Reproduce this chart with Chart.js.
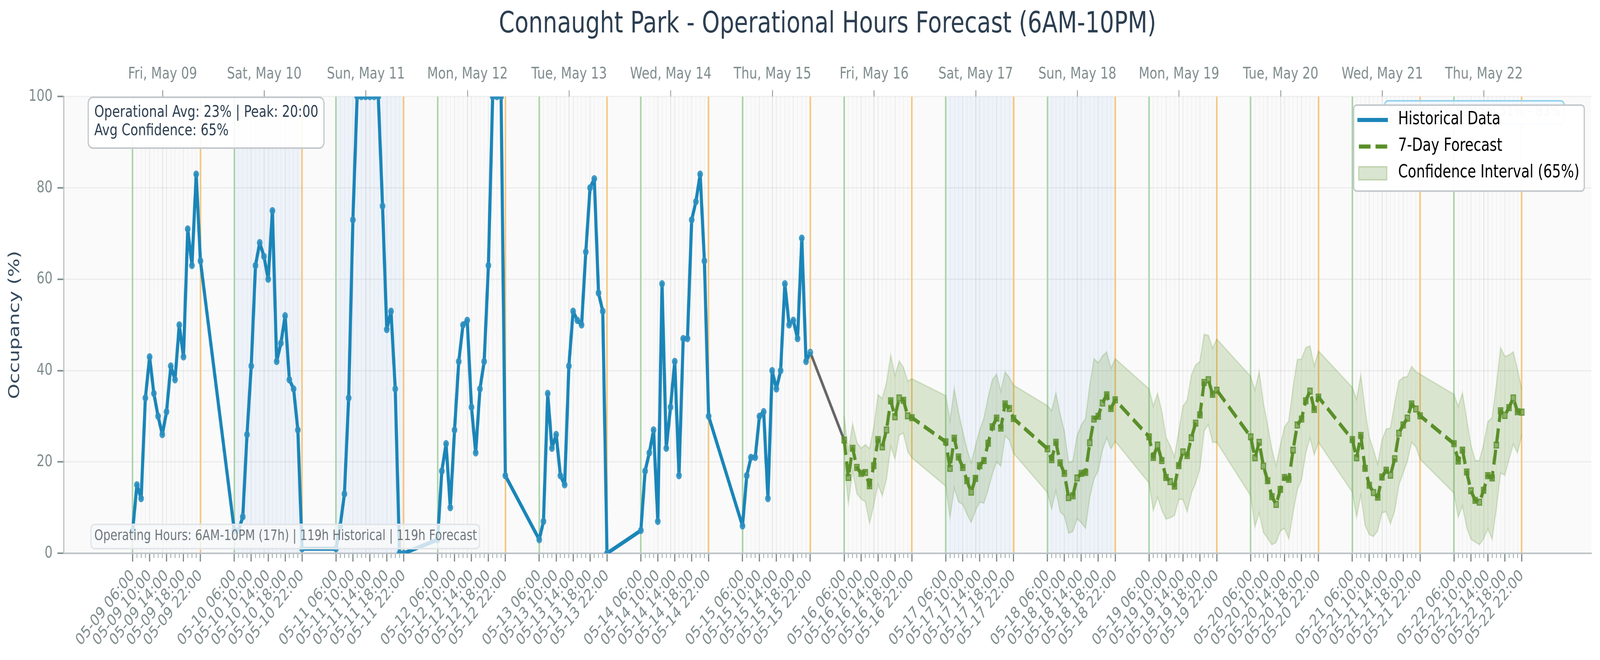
<!DOCTYPE html>
<html lang="en">
<head>
  <meta charset="UTF-8">
  <title>Connaught Park - Operational Hours Forecast</title>
  <script src="https://cdn.jsdelivr.net/npm/chart.js"></script>
  <style>
    html, body { margin: 0; padding: 0; background: #fff; overflow: hidden; }
    canvas { display: block; }
  </style>
</head>
<body>
  <!-- the browser window tops out at 4096px wide, so the 5295x1689 canvas is fitted to the window -->
  <canvas id="forecastChart" width="5295" height="1689" style="width:100vw;height:100vh"></canvas>

  <script>
    const dayKeys = ['05-09','05-10','05-11','05-12','05-13','05-14','05-15','05-16','05-17','05-18','05-19','05-20','05-21','05-22'];
    const dayNames = ['Fri, May 09','Sat, May 10','Sun, May 11','Mon, May 12','Tue, May 13','Wed, May 14','Thu, May 15','Fri, May 16','Sat, May 17','Sun, May 18','Mon, May 19','Tue, May 20','Wed, May 21','Thu, May 22'];
    const operatingHours = [6,7,8,9,10,11,12,13,14,15,16,17,18,19,20,21,22];
    const labelledHours = [6,10,14,18,22];
    const weekendDays = [1,2,8,9];

    const historical = [
      5,15,12,34,43,35,30,26,31,41,38,50,43,71,63,83,64,
      5,5,8,26,41,63,68,65,60,75,42,46,52,38,36,27,1,
      1,6,13,34,73,100,100,100,100,100,100,76,49,53,36,0,0,
      3,18,24,10,27,42,50,51,32,22,36,42,63,100,100,100,17,
      3,7,35,23,26,17,15,41,53,51,50,66,80,82,57,53,0,
      5,18,22,27,7,59,23,32,42,17,47,47,73,77,83,64,30,
      6,17,21,21,30,31,12,40,36,40,59,50,51,47,69,42,44
    ];
    const forecast = [
      24.8,16.6,23,18.8,17.5,17.7,14.8,19.2,24.9,23.3,27,33.4,29.9,34,33.5,30.1,29.7,
      24.4,18.6,25.2,21.1,18.8,15.9,13.4,16.4,19.2,20.3,24.1,27.7,29.6,27.4,32.7,31.7,29.5,
      22.9,20.5,24.3,19.8,17.5,12.2,12.6,16.5,17.5,17.7,24.2,29.4,30,32.9,34.7,31.7,33.6,
      25.5,21,23.7,20.3,16.6,15.7,14.7,19.2,22.2,21.4,25.3,28.5,30.3,37.4,38,34.8,35.7,
      25.5,20.9,24.3,19.1,15.9,12.4,10.7,14,16.6,16.2,22.6,28.1,29.4,33.4,35.5,31.5,34.2,
      24.9,20.9,25.8,18.6,14.9,13.3,12.3,16.7,18.2,17.1,20.7,26.3,28.1,29.6,32.7,31.6,30.1,
      24,20.2,22.6,17.8,13.7,11.6,11.2,13.8,17,16.5,23.7,31.2,30.2,31.9,34,31,30.9
    ];
    const upperBand = [
      30,22.4,28.3,24.3,23,23.8,22.9,27.6,34.7,33.9,37.4,43.4,38.9,42.1,40.7,37.7,38.2,
      34.5,29.1,36.1,30.9,26.7,22.8,19.8,23.5,27,29.6,34.2,38,39.2,35.5,39.7,38.5,36.8,
      32.3,31.2,35.1,30.5,26.7,19.9,20.2,25.7,28.1,29.6,36.8,42.6,41.7,43.2,44.1,40.5,42.6,
      36,32.2,35,31.1,25.4,23.5,21.1,26.7,32.2,33.5,39,41.2,42,47.9,47.7,44.9,46.9,
      38.7,35.7,39.8,32.9,28,22.8,19.1,23.7,27.7,29,36.3,42.4,42.5,45,45.4,41,44.3,
      36.3,33.7,39,31.5,25.4,22.6,19.5,24.8,27.2,27.4,32.9,37.7,38.5,38.7,40.9,39.8,39.2,
      34.8,32.1,35.1,29.4,23.7,20.3,20.3,23.9,28.8,29.7,36.8,45,43.1,43.4,44.1,40.3,35.9
    ];
    const lowerBand = [
      19.8,11,18,13.1,11.9,11.3,6.6,10.6,15.1,12.6,16.3,23.4,20.7,25.9,26.3,22.3,20.9,
      14.7,7.8,14.3,11.3,10.7,8.6,6.8,9.3,11.2,11,13.9,17.4,20,19.1,25.7,24.8,21.9,
      13.3,9.7,13.7,9.1,8.2,4.4,4.8,7.6,6.7,5.5,12.3,16.3,18.1,22.6,25.3,22.9,24.5,
      15.4,9.4,12.3,9.5,7.5,7.8,8.3,11.8,11.8,9.1,13.2,15.4,18.5,26.8,28.2,24.3,24.3,
      12.6,5.8,8.9,4.6,3.3,1.9,2.4,4.9,5.5,3.2,8.9,13.9,16.1,22,25.3,21.6,24.3,
      13.4,7.9,12.8,6.2,4.1,3.7,5,8.9,9.1,6.5,9.3,15,17.6,20.2,24.3,23.3,20.6,
      13.2,7.9,10.4,5.7,3.1,2.5,1.9,3.2,5.4,3.1,9.7,17.6,17.1,20.6,23.9,22,25.9
    ];

    const textColor = '#7f8c8d';
    const font = 'DejaVu Sans';
    const hourX = (day, hour) => day * 24 + hour - 6;

    const allTimes = dayKeys.flatMap((_, d) => operatingHours.map(h => hourX(d, h)));
    const histTimes = allTimes.slice(0, historical.length);
    const fcTimes = allTimes.slice(historical.length);
    const xy = (times, vals) => times.map((x, i) => ({ x, y: vals[i] }));

    const xMin = -16.27, xMax = 344.41;

    function setTicks(values) {
      return scale => { scale.ticks = values.map(value => ({ value })); };
    }
    const majorTimes = dayKeys.flatMap((_, d) => labelledHours.map(h => hourX(d, h)));
    const majorText = dayKeys.flatMap(k => labelledHours.map(h => k + ' ' + String(h).padStart(2, '0') + ':00'));
    const minorTimes = allTimes.filter(t => !majorTimes.includes(t));
    const noonTimes = dayKeys.map((_, d) => hourX(d, 13.07));

    function overlayAxis(values, grid) {
      return {
        type: 'linear', axis: 'x', position: { y: 0 }, min: xMin, max: xMax,
        afterBuildTicks: setTicks(values),
        border: { display: false },
        ticks: { display: false, autoSkip: false },
        grid: Object.assign({ drawTicks: false, z: -0.5 }, grid)
      };
    }

    function roundBox(ctx, x, y, w, h, r, fill, stroke, lw) {
      ctx.beginPath();
      ctx.roundRect(x, y, w, h, r);
      ctx.fillStyle = fill;
      ctx.fill();
      ctx.lineWidth = lw;
      ctx.strokeStyle = stroke;
      ctx.stroke();
    }

    function putText(ctx, text, x, y, color, size) {
      ctx.fillStyle = color;
      ctx.font = size + 'px "' + font + '"';
      ctx.textAlign = 'left';
      ctx.textBaseline = 'middle';
      ctx.fillText(text, x, y);
    }

    // plot background + weekend shading, under the grid
    const backdrop = {
      id: 'backdrop',
      beforeDraw(chart) {
        const { ctx, chartArea: a, scales: { x } } = chart;
        ctx.save();
        ctx.fillStyle = '#fafafa';
        ctx.fillRect(a.left, a.top, a.width, a.height);
        ctx.fillStyle = '#eef3fa';
        weekendDays.forEach(d => {
          const x0 = x.getPixelForValue(hourX(d, 6));
          const x1 = x.getPixelForValue(hourX(d, 22));
          ctx.fillRect(x0, a.top, x1 - x0, a.height);
        });
        ctx.restore();
      }
    };

    // info boxes and legend, on top of the data
    const overlays = {
      id: 'overlays',
      afterDatasetsDraw(chart) {
        const { ctx } = chart;
        ctx.save();
        roundBox(ctx, 292, 249, 780, 130, 15, 'rgba(255,255,255,0.9)', '#c3c8cc', 4);
        putText(ctx, 'Operational Avg: 23% | Peak: 20:00', 312, 288, '#2c3e50', 41.67);
        putText(ctx, 'Avg Confidence: 65%', 312, 335, '#2c3e50', 41.67);

        roundBox(ctx, 301, 1342, 1286, 62, 12, 'rgba(248,249,250,0.8)', '#e2e5e9', 4);
        putText(ctx, 'Operating Hours: 6AM-10PM (17h) | 119h Historical | 119h Forecast', 312, 1372, '#6c757d', 37.5);

        roundBox(ctx, 4582, 258, 595, 60, 12, 'rgba(240,248,253,0.8)', '#93d3ee', 4);
        putText(ctx, 'Confidence Range: 51% - 83%', 4595, 286, '#7f8c8d', 37.5);

        // legend
        roundBox(ctx, 4480, 269, 763, 220, 10, 'rgba(255,255,255,0.95)', '#c3c8cc', 4);
        ctx.lineCap = 'butt';
        ctx.lineWidth = 10.4;
        ctx.strokeStyle = '#1a85b8';
        ctx.beginPath(); ctx.moveTo(4492, 307); ctx.lineTo(4593, 307); ctx.stroke();
        ctx.strokeStyle = '#5a8f29';
        ctx.setLineDash([38.5, 16.7]);
        ctx.beginPath(); ctx.moveTo(4497, 375); ctx.lineTo(4592, 375); ctx.stroke();
        ctx.setLineDash([]);
        ctx.fillStyle = '#d9e5d0';
        ctx.strokeStyle = '#c3d5b2';
        ctx.lineWidth = 4;
        ctx.fillRect(4497, 427, 92, 33);
        ctx.strokeRect(4497, 427, 92, 33);
        putText(ctx, 'Historical Data', 4627, 306, '#000', 45.83);
        putText(ctx, '7-Day Forecast', 4627, 374, '#000', 45.83);
        putText(ctx, 'Confidence Interval (65%)', 4627, 442, '#000', 45.83);
        ctx.restore();
      }
    };

    new Chart(document.getElementById('forecastChart').getContext('2d'), {
      type: 'line',
      data: {
        datasets: [
          {
            label: 'Historical Data',
            data: xy(histTimes, historical),
            borderColor: '#1a85b8',
            borderWidth: 10.4,
            borderJoinStyle: 'round',
            pointRadius: 8,
            pointBorderWidth: 3,
            pointBackgroundColor: 'rgba(46,144,192,0.75)',
            pointBorderColor: 'rgba(46,144,192,0.85)',
            tension: 0,
            clip: 0
          },
          {
            label: '7-Day Forecast',
            data: xy(fcTimes, forecast),
            borderColor: '#5a8f29',
            borderWidth: 10.4,
            borderJoinStyle: 'round',
            borderDash: [38.5, 16.7],
            pointStyle: 'rect',
            pointRadius: 10.5,
            pointBorderWidth: 3.5,
            pointBackgroundColor: 'rgba(90,143,41,0.6)',
            pointBorderColor: 'rgba(90,143,41,0.8)',
            tension: 0,
            clip: 0
          },
          {
            label: 'link',
            data: [
              { x: histTimes[histTimes.length - 1], y: historical[historical.length - 1] },
              { x: fcTimes[0], y: forecast[0] }
            ],
            borderColor: '#666666',
            borderWidth: 8.3,
            pointRadius: 0,
            clip: 0
          },
          {
            label: 'Confidence Interval (65%)',
            data: xy(fcTimes, upperBand),
            borderColor: 'rgba(90,143,41,0.2)',
            backgroundColor: 'rgba(90,143,41,0.2)',
            borderWidth: 4,
            pointRadius: 0,
            tension: 0,
            fill: '+1',
            clip: 0
          },
          {
            label: 'lower',
            data: xy(fcTimes, lowerBand),
            borderColor: 'rgba(90,143,41,0.2)',
            borderWidth: 4,
            pointRadius: 0,
            tension: 0,
            fill: false,
            clip: 0
          }
        ]
      },
      options: {
        responsive: false,
        animation: false,
        devicePixelRatio: 1,
        events: [],
        layout: { padding: { left: 0, right: 29, top: 0, bottom: 0 } },
        font: { family: font },
        plugins: {
          legend: { display: false },
          tooltip: { enabled: false },
          title: {
            display: true,
            fullSize: false,
            text: 'Connaught Park - Operational Hours Forecast (6AM-10PM)',
            color: '#2c3e50',
            font: { family: font, size: 75, weight: 'normal' },
            padding: { top: 19, bottom: 38 }
          }
        },
        scales: {
          // hourly minor ticks and grid
          xMinor: {
            type: 'linear', axis: 'x', position: { y: 0 }, min: xMin, max: xMax,
            afterBuildTicks: setTicks(minorTimes),
            border: { display: false },
            ticks: { display: false, autoSkip: false },
            grid: { color: 'rgba(0,0,0,0.03)', lineWidth: 2.5, tickColor: '#95a5a6', tickWidth: 2.5, tickLength: 12 }
          },
          xOpen: overlayAxis(dayKeys.map((_, d) => hourX(d, 6)), { color: '#aad4a8', lineWidth: 5.2 }),
          xClose: overlayAxis(dayKeys.map((_, d) => hourX(d, 22)), { color: '#f5c67f', lineWidth: 5.2 }),
          x: {
            type: 'linear', position: 'bottom', min: xMin, max: xMax,
            afterBuildTicks: setTicks(majorTimes),
            afterFit: s => { s.height = 273; },
            border: { display: true, color: '#bdc3c7', width: 4 },
            grid: { color: 'rgba(0,0,0,0.045)', lineWidth: 4, tickColor: textColor, tickWidth: 4, tickLength: 21 },
            ticks: {
              autoSkip: false, minRotation: 45, maxRotation: 45, padding: 12,
              color: textColor, font: { family: font, size: 41.67 },
              callback: (v, i) => majorText[i]
            }
          },
          xDays: {
            type: 'linear', axis: 'x', position: 'top', min: xMin, max: xMax,
            afterBuildTicks: setTicks(noonTimes),
            afterFit: s => { s.height = 100; },
            border: { display: false },
            grid: { color: 'rgba(0,0,0,0.06)', lineWidth: 3, tickColor: textColor, tickWidth: 2.5, tickLength: 16, borderDash: [17, 7] },
            ticks: {
              autoSkip: false, maxRotation: 0, minRotation: 0, padding: 16,
              color: textColor, font: { family: font, size: 41.67 },
              callback: (v, i) => dayNames[i]
            }
          },
          y: {
            type: 'linear', position: 'left', min: 0, max: 100,
            afterFit: s => { s.width = 211; },
            border: { display: true, color: '#bdc3c7', width: 4 },
            grid: { color: 'rgba(0,0,0,0.05)', lineWidth: 3.5, tickColor: textColor, tickWidth: 4, tickLength: 21 },
            ticks: { stepSize: 20, padding: 16, color: textColor, font: { family: font, size: 41.67 } },
            title: {
              display: true, text: 'Occupancy (%)', color: '#34495e',
              font: { family: font, size: 50, weight: 'normal' },
              padding: { top: 20, bottom: 0 }
            }
          }
        }
      },
      plugins: [backdrop, overlays]
    });
  </script>
</body>
</html>
